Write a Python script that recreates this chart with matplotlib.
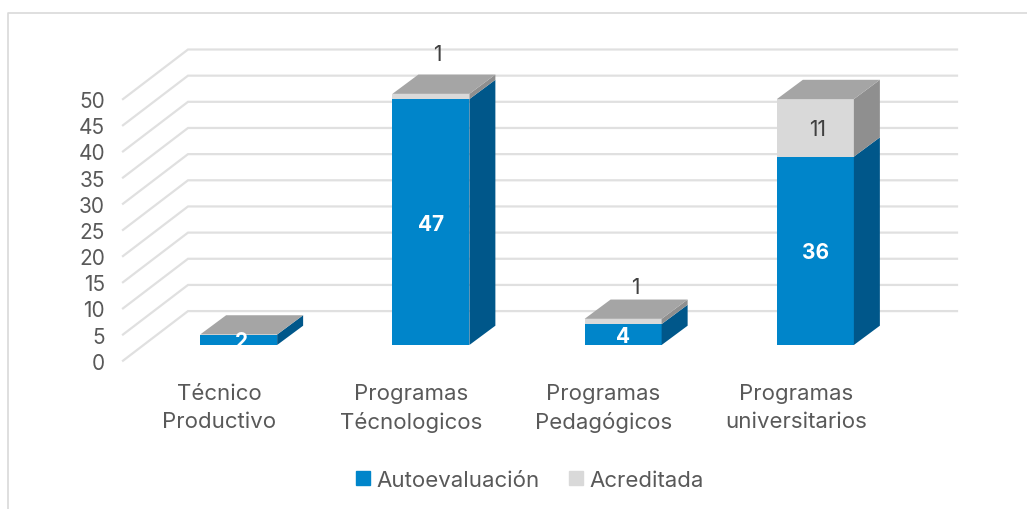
import matplotlib
matplotlib.use("Agg")
import matplotlib.pyplot as plt
from matplotlib.patches import Polygon, Patch
from matplotlib.lines import Line2D

categories = ["Técnico\nProductivo", "Programas\nTécnologicos", "Programas\nPedagógicos", "Programas\nuniversitarios"]
autoevaluacion = [2, 47, 4, 36]
acreditada = [0, 1, 1, 11]
y_ticks = [0, 5, 10, 15, 20, 25, 30, 35, 40, 45, 50]

BLUE, BLUE_SIDE = "#0085CA", "#00578A"
GRAY, GRAY_SIDE, GRAY_TOP = "#D9D9D9", "#8F8F8F", "#A5A5A5"
GRID = "#E0E0E0"
TEXT = "#595959"
FONT = "Inter"

W, H = 1027, 510
plt.rcParams["font.family"] = FONT
fig = plt.figure(figsize=(W / 100, H / 100), dpi=100)
px_left, px_right, px_bottom, px_top = 123, 957, 361.7, 50
ax = fig.add_axes([px_left / W, 1 - px_bottom / H, (px_right - px_left) / W, (px_bottom - px_top) / H])
cat_px, val_px = 192.25, 5.232
ax.set_xlim(-0.5, -0.5 + (px_right - px_left) / cat_px)
ax.set_ylim(0, (px_bottom - px_top) / val_px)
for s in ax.spines.values():
    s.set_visible(False)

# 3-D projection offsets (axis units)
wall_dx, wall_dy = 65 / cat_px, 49.6 / val_px
bar_off_x, bar_off_y = 19.5 / cat_px, 15.7 / val_px
depth_x, depth_y = 26 / cat_px, 19.3 / val_px
bar_w = 77 / cat_px

x0 = -0.5
x1 = ax.get_xlim()[1]
for v in y_ticks:
    ax.plot([x0, x0 + wall_dx, x1], [v, v + wall_dy, v + wall_dy], color=GRID, lw=1.6, zorder=1,
            solid_joinstyle="miter", clip_on=False)


def segment(i, base, height, front, side):
    left = i + bar_off_x - bar_w / 2
    right = left + bar_w
    b = base + bar_off_y
    t = b + height
    ax.bar(left + bar_w / 2, height, bar_w, bottom=b, color=front, zorder=3)
    ax.add_patch(Polygon([(right, b), (right + depth_x, b + depth_y), (right + depth_x, t + depth_y), (right, t)],
                         closed=True, fc=side, ec="none", zorder=3))


for i, (a, c) in enumerate(zip(autoevaluacion, acreditada)):
    segment(i, 0, a, BLUE, BLUE_SIDE)
    if c:
        segment(i, a, c, GRAY, GRAY_SIDE)
    top = a + c + bar_off_y
    left = i + bar_off_x - bar_w / 2
    ax.add_patch(Polygon([(left, top), (left + depth_x, top + depth_y),
                          (left + bar_w + depth_x, top + depth_y), (left + bar_w, top)],
                         closed=True, fc=GRAY_TOP, ec="none", zorder=3))
    cx = i + bar_off_x
    ax.annotate(str(a), (cx, a / 2 + bar_off_y), xytext=(3 if a == 2 else 0, -1.5), textcoords="offset pixels",
                color="white", fontsize=15, fontweight="bold", ha="center", va="center", zorder=5)
    if c >= 5:
        ax.annotate(str(c), (cx, a + c / 2 + bar_off_y), xytext=(2, -1), textcoords="offset pixels",
                    color="#404040", fontsize=15, ha="center", va="center", zorder=5)
    elif c:
        ax.annotate(str(c), (cx, top), xytext=(6 if a > 10 else 12, 40 if a > 10 else 32),
                    textcoords="offset pixels", color="#404040", fontsize=15, ha="center", va="center", zorder=5)

ax.set_yticks(y_ticks)
ax.set_xticks(range(len(categories)), categories)
ax.tick_params(axis="both", length=0, labelcolor=TEXT)
ax.tick_params(axis="y", pad=13, labelsize=15)
ax.tick_params(axis="x", pad=16, labelsize=16)
for lab in ax.get_xticklabels():
    lab.set_linespacing(1.5)
ax.patch.set_alpha(0)

fig.add_artist(Line2D([8 / W, 8 / W, 1], [0, 1 - 14 / H, 1 - 14 / H], color="#D9D9D9", lw=1.2))

fig.legend(handles=[Patch(color=BLUE, label="Autoevaluación"), Patch(color=GRAY, label="Acreditada")],
           loc="center", bbox_to_anchor=(530 / W, 1 - 481 / H), ncol=2, frameon=False, fontsize=16,
           labelcolor=TEXT, handlelength=0.63, handleheight=0.63, handletextpad=0.31, columnspacing=1.3)

fig.savefig("out.png", dpi=100)
